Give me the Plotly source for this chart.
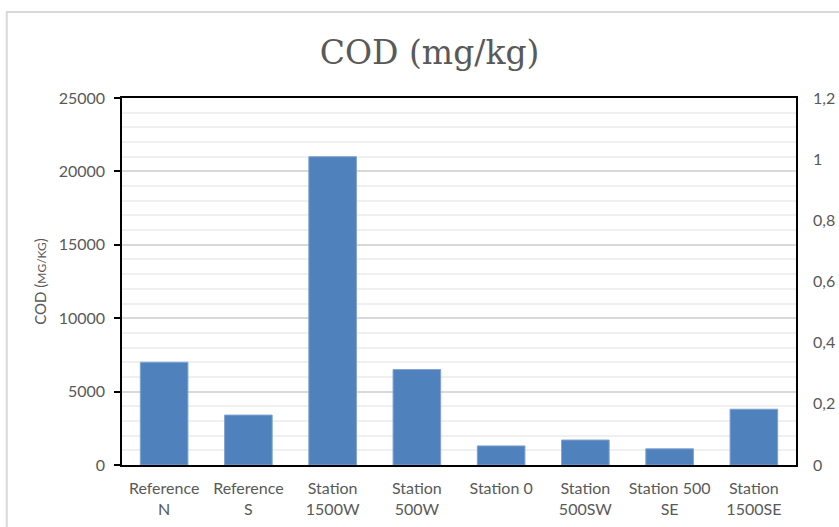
import plotly.graph_objects as go

# COD concentration per sampling station
stations = ["Reference<br>N", "Reference<br>S", "Station<br>1500W", "Station<br>500W",
            "Station 0", "Station<br>500SW", "Station 500<br>SE", "Station<br>1500SE"]
cod_values = [7000, 3400, 21000, 6500, 1300, 1700, 1100, 3800]

left_ticks = [0, 5000, 10000, 15000, 20000, 25000]
left_ticktext = ["0", "5000", "10000", "15000", "20000", "25000"]
right_tickvals = [0, 0.2, 0.4, 0.6, 0.8, 1.0, 1.2]
right_ticktext = ["0", "0,2", "0,4", "0,6", "0,8", "1", "1,2"]

GREY = "#595959"
FONT = "Lato, Liberation Sans, sans-serif"

fig = go.Figure()
fig.add_trace(go.Bar(
    x=stations, y=cod_values,
    marker=dict(color="#4f81bd", line=dict(color="#7fa3d2", width=1)),
    showlegend=False,
))
# empty trace so the secondary axis is drawn
fig.add_trace(go.Scatter(x=[stations[0]], y=[None], yaxis="y2",
                         showlegend=False, hoverinfo="skip"))

fig.update_layout(
    width=839, height=527,
    margin=dict(l=122, r=43, t=98, b=62),
    paper_bgcolor="white", plot_bgcolor="white",
    bargap=0.435,
    font=dict(family=FONT, color=GREY, size=16),
    title=dict(text="COD (mg/kg)", x=0.512, xanchor="center", y=0.9, yanchor="middle",
               font=dict(family="DejaVu Serif, Liberation Serif, serif", size=33, color=GREY)),
    xaxis=dict(
        showline=True, linecolor="black", linewidth=1.5, mirror=True,
        ticks="", ticklabelstandoff=8, tickfont=dict(size=16, color=GREY),
        automargin=False,
    ),
    yaxis=dict(
        range=[0, 25000], tickvals=left_ticks, ticktext=left_ticktext,
        showline=True, linecolor="black", linewidth=1.5, mirror=True,
        ticks="outside", ticklen=6, tickcolor="black", tickwidth=1.5,
        ticklabelstandoff=6,
        showgrid=True, gridcolor="#d9d9d9", gridwidth=1.5,
        minor=dict(dtick=1000, showgrid=True, gridcolor="#f0f0f0", gridwidth=1.5),
        zeroline=False, automargin=False,
        tickfont=dict(size=16, color=GREY),
        title=dict(text="COD (<span style='font-size:12px'>MG/KG</span>)",
                   font=dict(size=15, color=GREY), standoff=8),
    ),
    yaxis2=dict(
        overlaying="y", side="right", range=[0, 1.2],
        tickvals=right_tickvals, ticktext=right_ticktext,
        showgrid=False, zeroline=False, showline=False, ticks="",
        ticklabelstandoff=16, automargin=False,
        tickfont=dict(size=16, color=GREY),
    ),
    shapes=[dict(type="rect", xref="paper", yref="paper",
                 x0=-0.171, x1=1.3, y0=-0.4, y1=1.234,
                 line=dict(color="#d9d9d9", width=2), layer="below")],
)

fig.write_html("out.html")
